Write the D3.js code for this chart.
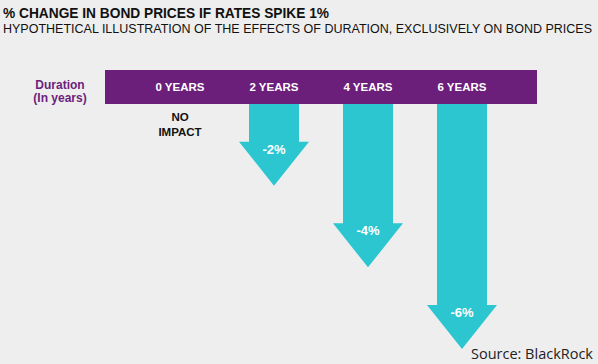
<!DOCTYPE html>
<html>
<head>
<meta charset="utf-8">
<script src="https://cdn.jsdelivr.net/npm/d3@7"></script>
<style>
  body { margin: 0; background: #eeeeee; }
  svg { display: block; font-family: "Liberation Sans", Arial, sans-serif; }
</style>
</head>
<body>
<svg id="chart" width="598" height="364"></svg>
<script>
// data
var durations = [0, 2, 4, 6];
var durationLabels = ['0 YEARS', '2 YEARS', '4 YEARS', '6 YEARS'];
var priceChange = [0, -2, -4, -6];
var changeLabels = ['NO IMPACT', '-2%', '-4%', '-6%'];

var purple = '#6b1f7b';
var teal = '#2bc6d0';

var svg = d3.select('#chart');

svg.append('rect')
  .attr('width', 598).attr('height', 364)
  .attr('fill', '#eeeeee');

// titles
svg.append('text')
  .attr('x', 3).attr('y', 18)
  .attr('font-size', 15).attr('font-weight', 'bold')
  .attr('fill', '#111')
  .attr('textLength', 326).attr('lengthAdjust', 'spacingAndGlyphs')
  .text('% CHANGE IN BOND PRICES IF RATES SPIKE 1%');

svg.append('text')
  .attr('x', 3).attr('y', 33)
  .attr('font-size', 12.5)
  .attr('fill', '#111')
  .attr('textLength', 589).attr('lengthAdjust', 'spacingAndGlyphs')
  .text('HYPOTHETICAL ILLUSTRATION OF THE EFFECTS OF DURATION, EXCLUSIVELY ON BOND PRICES');

// scales
var x = d3.scaleLinear().domain([0, 6]).range([180, 462]);
var bandTop = 70, bandBottom = 104;
var y = d3.scaleLinear().domain([0, -6]).range([bandBottom, 349]);

var shaftW = 50, headW = 70, headH = 44;

// arrows
var arrows = svg.append('g').attr('class', 'arrows');
durations.forEach(function(d, i) {
  var v = priceChange[i];
  if (v === 0) return;
  var cx = x(d), tip = y(v), shoulder = tip - headH;
  var pts = [
    [cx - shaftW / 2, bandBottom - 2],
    [cx + shaftW / 2, bandBottom - 2],
    [cx + shaftW / 2, shoulder],
    [cx + headW / 2, shoulder],
    [cx, tip],
    [cx - headW / 2, shoulder],
    [cx - shaftW / 2, shoulder]
  ];
  arrows.append('path')
    .attr('d', d3.line()(pts) + 'Z')
    .attr('fill', teal);
  arrows.append('text')
    .attr('x', cx).attr('y', shoulder + 12)
    .attr('text-anchor', 'middle')
    .attr('font-size', 13).attr('font-weight', 'bold')
    .attr('fill', '#fff')
    .text(changeLabels[i]);
});

// purple band
svg.append('rect')
  .attr('x', 105).attr('y', bandTop)
  .attr('width', 432).attr('height', bandBottom - bandTop)
  .attr('fill', purple);

svg.selectAll('.dur-label')
  .data(durations)
  .enter().append('text')
  .attr('class', 'dur-label')
  .attr('x', function(d) { return x(d); })
  .attr('y', 91)
  .attr('text-anchor', 'middle')
  .attr('font-size', 11.5).attr('font-weight', 'bold')
  .attr('fill', '#fff')
  .text(function(d, i) { return durationLabels[i]; });

// axis title
var axisTitle = svg.append('text')
  .attr('x', 60).attr('text-anchor', 'middle')
  .attr('font-size', 12).attr('font-weight', 'bold')
  .attr('fill', purple);
axisTitle.append('tspan').attr('x', 60).attr('y', 89).text('Duration');
axisTitle.append('tspan').attr('x', 60).attr('y', 102).text('(In years)');

// no impact label
var noImpact = svg.append('text')
  .attr('text-anchor', 'middle')
  .attr('font-size', 11.5).attr('font-weight', 'bold')
  .attr('fill', '#111');
changeLabels[0].split(' ').forEach(function(w, k) {
  noImpact.append('tspan').attr('x', x(durations[0])).attr('y', 121 + k * 15).text(w);
});

// source
svg.append('text')
  .attr('x', 593).attr('y', 359)
  .attr('text-anchor', 'end')
  .attr('font-family', '"Open Sans", "Noto Sans", sans-serif')
  .attr('font-size', 14.5)
  .attr('fill', '#222')
  .text('Source: BlackRock');
</script>
</body>
</html>
